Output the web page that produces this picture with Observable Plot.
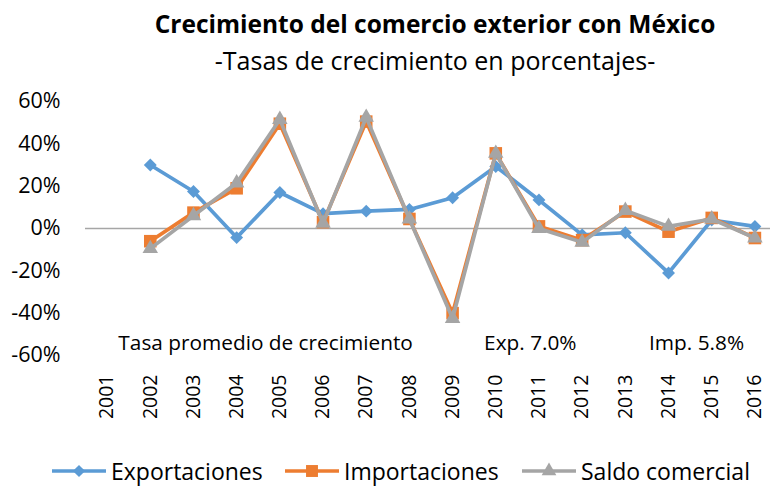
<!DOCTYPE html>
<html>
<head>
<meta charset="utf-8">
<script src="https://cdn.jsdelivr.net/npm/d3@7"></script>
<script src="https://cdn.jsdelivr.net/npm/@observablehq/plot@0.6"></script>
<style>
  html, body { margin: 0; padding: 0; background: #fff; }
  body { width: 770px; height: 489px; overflow: hidden; font-family: "Open Sans", sans-serif; color: #000; }
  #title { padding-left: 100px; text-align: center; white-space: nowrap; }
  #title .t { font-weight: bold; font-size: 24.5px; line-height: 32px; padding-top: 8px; }
  #title .s { font-size: 25px; line-height: 40px; }
  #legend { position: relative; height: 39px; font-size: 23px; }
  #legend .item { position: absolute; top: 5px; display: flex; align-items: center; white-space: nowrap; }
  #legend svg { margin-right: 5px; }
</style>
</head>
<body>
<div id="title"><div class="t">Crecimiento del comercio exterior con México</div><div class="s">-Tasas de crecimiento en porcentajes-</div></div>
<div id="chart"></div>
<div id="legend"></div>
<script>
const years = [2001, 2002, 2003, 2004, 2005, 2006, 2007, 2008, 2009, 2010, 2011, 2012, 2013, 2014, 2015, 2016];
const dataYears = [2002, 2003, 2004, 2005, 2006, 2007, 2008, 2009, 2010, 2011, 2012, 2013, 2014, 2015, 2016];
const exportaciones = [30, 17.5, -4.3, 17, 7, 8.2, 9, 14.5, 29.3, 13.5, -3, -2, -21, 4, 1];
const importaciones = [-6, 7.5, 19, 49.5, 3, 50.5, 4.5, -40, 35.5, 1, -5.5, 8, -1.5, 5, -4.5];
const saldo = [-9.5, 6, 21.5, 51.5, 2.5, 52.5, 4.5, -42.5, 35.5, 0, -6.5, 8.5, 1, 4.5, -4.5];
const seriesNames = ["Exportaciones", "Importaciones", "Saldo comercial"];
const seriesColors = ["#5B9BD5", "#ED7D31", "#A5A5A5"];
const seriesSymbols = ["diamond2", "square2", "triangle2"];
const seriesR = [5.8, 8, 7.4];
const yTicks = [-60, -40, -20, 0, 20, 40, 60];
const avgLabel = "Tasa promedio de crecimiento";
const avgExp = 7.0, avgImp = 5.8;

const allValues = [exportaciones, importaciones, saldo];
const marks = [Plot.ruleY([0], {stroke: "#A6A6A6", strokeWidth: 1.4})];
allValues.forEach((vals, i) => {
  const rows = dataYears.map((y, j) => ({year: y, value: vals[j]}));
  marks.push(Plot.line(rows, {x: "year", y: "value", stroke: seriesColors[i], strokeWidth: 3.7, strokeLinejoin: "round"}));
  marks.push(Plot.dot(rows, {x: "year", y: "value", symbol: () => seriesSymbols[i], fill: seriesColors[i], stroke: "none", r: seriesR[i]}));
});
const notes = [
  {x: 2004.67, text: avgLabel},
  {x: 2010.8, text: "Exp. " + avgExp.toFixed(1) + "%"},
  {x: 2014.65, text: "Imp. " + avgImp.toFixed(1) + "%"}
];
marks.push(Plot.text(notes, {x: "x", y: () => -54.3, text: "text", fontSize: 20.8, fill: "#000"}));
marks.push(Plot.axisY({ticks: yTicks, tickFormat: d => d + "%", tickSize: 0, tickPadding: 25, fontSize: 21.5, fill: "#000", label: null}));
marks.push(Plot.axisX({ticks: years, tickFormat: d => String(d), tickSize: 0, tickPadding: 19, tickRotate: -90, fontSize: 19.5, fill: "#000", label: null}));

const plot = Plot.plot({
  width: 770,
  height: 370,
  marginLeft: 85,
  marginRight: 0,
  marginTop: 21,
  marginBottom: 95,
  x: {domain: [2000.5, 2016.5], range: [85, 776], label: null},
  y: {domain: [-60, 60], label: null},
  symbol: {type: "identity"},
  style: {fontFamily: "Open Sans", color: "#000", background: "#fff", overflow: "visible"},
  marks
});
document.getElementById("chart").appendChild(plot);

const legend = document.getElementById("legend");
const legendLeft = [52, 285, 522];
seriesNames.forEach((name, i) => {
  const item = document.createElement("div");
  item.className = "item";
  item.style.left = legendLeft[i] + "px";
  const sym = d3.symbol(d3["symbol" + {diamond2: "Diamond2", square2: "Square2", triangle2: "Triangle2"}[seriesSymbols[i]]], Math.PI * seriesR[i] * seriesR[i] * 0.9)();
  item.innerHTML = `<svg width="54" height="18"><line x1="0" x2="54" y1="9" y2="9" stroke="${seriesColors[i]}" stroke-width="3.7"/><path transform="translate(27,9)" d="${sym}" fill="${seriesColors[i]}"/></svg><span>${name}</span>`;
  legend.appendChild(item);
});
</script>
</body>
</html>
